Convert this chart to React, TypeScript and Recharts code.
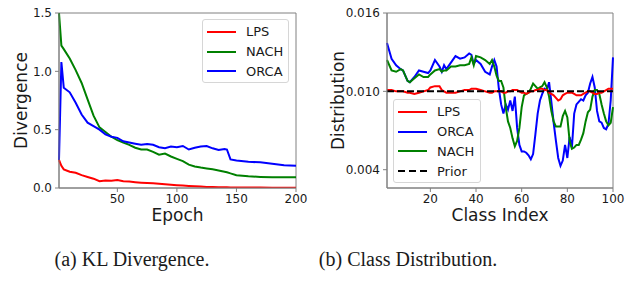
import React from 'react';
import { LineChart, Line, XAxis, YAxis, ReferenceArea } from 'recharts';

// (a) KL divergence per epoch
const epochs = [1, 3, 5, 10, 15, 20, 25, 30, 35, 40, 45, 50, 55, 60, 65, 70, 75, 80, 85, 90, 95, 100, 105, 110, 115, 120, 125, 130, 135, 140, 142, 145, 150, 160, 170, 180, 190, 200];
const klLps = [0.24, 0.19, 0.16, 0.14, 0.13, 0.11, 0.095, 0.08, 0.058, 0.065, 0.062, 0.068, 0.058, 0.055, 0.05, 0.046, 0.043, 0.04, 0.036, 0.032, 0.028, 0.024, 0.021, 0.018, 0.015, 0.012, 0.009, 0.008, 0.007, 0.006, 0.006, 0.005, 0.005, 0.004, 0.004, 0.003, 0.003, 0.003];
const klNach = [1.5, 1.22, 1.19, 1.11, 1.01, 0.9, 0.76, 0.62, 0.52, 0.48, 0.44, 0.41, 0.39, 0.37, 0.345, 0.33, 0.33, 0.31, 0.285, 0.295, 0.27, 0.25, 0.23, 0.2, 0.185, 0.175, 0.168, 0.16, 0.15, 0.14, 0.135, 0.125, 0.11, 0.1, 0.095, 0.092, 0.092, 0.092];
const klOrca = [0.24, 1.08, 0.86, 0.82, 0.73, 0.63, 0.56, 0.53, 0.5, 0.46, 0.44, 0.43, 0.4, 0.39, 0.38, 0.37, 0.377, 0.37, 0.35, 0.34, 0.355, 0.35, 0.36, 0.33, 0.345, 0.355, 0.36, 0.34, 0.325, 0.335, 0.33, 0.245, 0.235, 0.225, 0.22, 0.207, 0.195, 0.19];
const epochTicks = [50, 100, 150, 200];
const klTicks = [0, 0.5, 1.0, 1.5];

// (b) class distribution
const classIndex = [
  1, 3, 5, 7, 8, 10, 11, 13, 15, 17, 19, 20, 22, 24, 25, 26, 27, 29, 31, 33, 35, 37, 38, 39, 40, 42, 44, 46, 47, 48, 49,
  50, 51, 52, 53, 54, 55, 56, 57, 58, 59, 60, 61, 62, 63, 64, 65, 66, 67, 68, 69, 70, 71, 72, 73, 74, 75,
  76, 77, 78, 79, 80, 81, 82, 83, 84, 85, 86, 87, 88, 89, 90, 91, 92, 93, 94, 95, 96, 97, 98, 99, 100,
];
const distLps = [
  0.0101, 0.0101, 0.01, 0.01, 0.01, 0.0099, 0.0099, 0.0098, 0.0099, 0.01, 0.0101, 0.0103, 0.0104, 0.0104, 0.0101, 0.01, 0.0099, 0.0099, 0.0099, 0.01, 0.0101, 0.0101, 0.0102, 0.0102, 0.0102, 0.0101, 0.01, 0.0099, 0.0099, 0.01, 0.01,
  0.01, 0.01, 0.0099, 0.0099, 0.01, 0.01, 0.0101, 0.0101, 0.0101, 0.01, 0.0099, 0.0099, 0.0098, 0.0099, 0.01, 0.01, 0.0101, 0.0101, 0.0102, 0.0102, 0.0101, 0.0101, 0.0099, 0.0098, 0.0097, 0.0095,
  0.0093, 0.0094, 0.0097, 0.0098, 0.0099, 0.0099, 0.0099, 0.0098, 0.0097, 0.0097, 0.0097, 0.0098, 0.0099, 0.01, 0.01, 0.0099, 0.0098, 0.0098, 0.0099, 0.0099, 0.01, 0.0101, 0.0102, 0.0102, 0.0102,
];
const distOrca = [
  0.0137, 0.0125, 0.012, 0.0117, 0.0116, 0.0108, 0.0107, 0.0111, 0.0116, 0.0115, 0.0114, 0.0116, 0.0124, 0.0119, 0.0115, 0.012, 0.0117, 0.0122, 0.0127, 0.0125, 0.0126, 0.0129, 0.0128, 0.0121, 0.0124, 0.0121, 0.0115, 0.0113, 0.0119, 0.0124, 0.0119,
  0.0102, 0.009, 0.0083, 0.009, 0.0086, 0.0093, 0.0085, 0.0096, 0.0072, 0.0059, 0.0054, 0.0054, 0.0053, 0.0051, 0.0048, 0.0052, 0.0067, 0.0083, 0.0093, 0.0098, 0.0102, 0.0101, 0.0107, 0.0092, 0.0076, 0.0062,
  0.0049, 0.0043, 0.0047, 0.0059, 0.0049, 0.0065, 0.0057, 0.0083, 0.009, 0.0092, 0.0094, 0.0093, 0.0097, 0.0099, 0.0106, 0.0111, 0.0103, 0.0085, 0.0077, 0.0076, 0.0072, 0.0071, 0.0075, 0.0093, 0.0126,
];
const distNach = [
  0.0124, 0.0116, 0.0115, 0.0117, 0.0116, 0.0108, 0.0107, 0.011, 0.0113, 0.0111, 0.0111, 0.0113, 0.0116, 0.0117, 0.0115, 0.0116, 0.0116, 0.0119, 0.0119, 0.012, 0.012, 0.0121, 0.0126, 0.012, 0.0127, 0.0126, 0.0124, 0.0121, 0.0124, 0.0119, 0.0112,
  0.0108, 0.0108, 0.0103, 0.0088, 0.0077, 0.0072, 0.0064, 0.0058, 0.0062, 0.0072, 0.0088, 0.0097, 0.0098, 0.0099, 0.0102, 0.0106, 0.0104, 0.0102, 0.0103, 0.0104, 0.0107, 0.0103, 0.0096, 0.0085, 0.0077, 0.0073,
  0.0073, 0.0073, 0.0081, 0.0085, 0.008, 0.0062, 0.0056, 0.0057, 0.0059, 0.0059, 0.0063, 0.0068, 0.0077, 0.0084, 0.0086, 0.0096, 0.0101, 0.0101, 0.0098, 0.009, 0.0083, 0.0077, 0.0074, 0.0076, 0.0088,
];
const priorValue = 0.01;
const classTicks = [20, 40, 60, 80, 100];
const distTicks = [0.004, 0.01, 0.016];

const klData = epochs.map((e, i) => ({ epoch: e, lps: klLps[i], nach: klNach[i], orca: klOrca[i] }));
const distData = classIndex.map((c, i) => ({ cls: c, lps: distLps[i], orca: distOrca[i], nach: distNach[i], prior: priorValue }));

const FONT = 'DejaVu Sans, sans-serif';
const SPINE = '#808080';
const TEXT = '#1a1a1a';
const tickStyle = { fontSize: 12, fill: TEXT, fontFamily: FONT };

type Entry = { name: string; color: string; dashed?: boolean };

const LegendBox = ({ left, top, width, height, entries }: { left: number; top: number; width: number; height: number; entries: Entry[] }) => (
  <div
    style={{
      position: 'absolute', left, top, width, height, boxSizing: 'border-box',
      border: '1px solid #d6d6d6', borderRadius: 3, background: 'rgba(255,255,255,0.8)',
      fontFamily: FONT, fontSize: 13, color: TEXT, paddingTop: 2,
    }}
  >
    {entries.map((en) => (
      <div key={en.name} style={{ display: 'flex', alignItems: 'center', height: 19.8 }}>
        <svg width={30} height={4} style={{ marginLeft: 4, marginRight: 9 }}>
          <line x1={0} y1={2} x2={29} y2={2} stroke={en.color} strokeWidth={2} strokeDasharray={en.dashed ? '7 4' : undefined} />
        </svg>
        <span>{en.name}</span>
      </div>
    ))}
  </div>
);

const Caption = ({ left, text }: { left: number; text: string }) => (
  <div style={{ position: 'absolute', left: left - 120, width: 240, top: 248, textAlign: 'center', fontFamily: 'Liberation Serif, Times New Roman, serif', fontSize: 20, color: TEXT }}>
    {text}
  </div>
);

export default function App() {
  return (
    <div style={{ position: 'absolute', left: 0, top: 0, width: 634, height: 285, background: '#fff' }}>
      <div style={{ position: 'absolute', left: 0, top: 0 }}>
        <LineChart width={317} height={230} data={klData} margin={{ top: 13, right: 21, bottom: 0, left: 0 }}>
          <XAxis
            dataKey="epoch" type="number" domain={[1, 200]} ticks={epochTicks}
            tick={tickStyle} tickSize={4} tickMargin={2} stroke={SPINE} height={42}
            label={{ value: 'Epoch', position: 'insideBottom', offset: 9, style: { fontSize: 17, fill: TEXT, fontFamily: FONT } }}
          />
          <YAxis
            type="number" domain={[0, 1.5]} ticks={klTicks} allowDataOverflow
            tickFormatter={(v: number) => v.toFixed(1)}
            tick={tickStyle} tickSize={4} tickMargin={3} stroke={SPINE} width={59}
            label={{ value: 'Divergence', angle: -90, position: 'insideLeft', offset: 21, style: { fontSize: 17, fill: TEXT, fontFamily: FONT, textAnchor: 'middle' } }}
          />
          <ReferenceArea x1={1} x2={200} y1={0} y2={1.5} fill="none" stroke={SPINE} strokeOpacity={1} fillOpacity={0} />
          <Line dataKey="nach" stroke="#008000" strokeWidth={2} dot={false} isAnimationActive={false} />
          <Line dataKey="orca" stroke="#0000ff" strokeWidth={2} dot={false} isAnimationActive={false} />
          <Line dataKey="lps" stroke="#ff0000" strokeWidth={2} dot={false} isAnimationActive={false} />
        </LineChart>
      </div>
      <div style={{ position: 'absolute', left: 317, top: 0 }}>
        <LineChart width={317} height={230} data={distData} margin={{ top: 13, right: 21, bottom: 0, left: 0 }}>
          <XAxis
            dataKey="cls" type="number" domain={[1, 100]} ticks={classTicks}
            tick={tickStyle} tickSize={4} tickMargin={2} stroke={SPINE} height={42}
            label={{ value: 'Class Index', position: 'insideBottom', offset: 9, style: { fontSize: 17, fill: TEXT, fontFamily: FONT } }}
          />
          <YAxis
            type="number" domain={[0.0026, 0.016]} ticks={distTicks} allowDataOverflow
            tickFormatter={(v: number) => v.toFixed(3)}
            tick={tickStyle} tickSize={4} tickMargin={3} stroke={SPINE} width={70}
            label={{ value: 'Distribution', angle: -90, position: 'insideLeft', offset: 21, style: { fontSize: 17, fill: TEXT, fontFamily: FONT, textAnchor: 'middle' } }}
          />
          <ReferenceArea x1={1} x2={100} y1={0.0026} y2={0.016} fill="none" stroke={SPINE} strokeOpacity={1} fillOpacity={0} />
          <Line dataKey="orca" stroke="#0000ff" strokeWidth={2} dot={false} isAnimationActive={false} />
          <Line dataKey="nach" stroke="#008000" strokeWidth={2} dot={false} isAnimationActive={false} />
          <Line dataKey="lps" stroke="#ff0000" strokeWidth={2} dot={false} isAnimationActive={false} />
          <Line dataKey="prior" stroke="#000000" strokeWidth={2} strokeDasharray="7 3" dot={false} isAnimationActive={false} />
        </LineChart>
      </div>
      <LegendBox left={202} top={19} width={87} height={64} entries={[
        { name: 'LPS', color: '#ff0000' },
        { name: 'NACH', color: '#008000' },
        { name: 'ORCA', color: '#0000ff' },
      ]} />
      <LegendBox left={393} top={99} width={88} height={84} entries={[
        { name: 'LPS', color: '#ff0000' },
        { name: 'ORCA', color: '#0000ff' },
        { name: 'NACH', color: '#008000' },
        { name: 'Prior', color: '#000000', dashed: true },
      ]} />
      <Caption left={132} text="(a) KL Divergence." />
      <Caption left={408} text="(b) Class Distribution." />
    </div>
  );
}
